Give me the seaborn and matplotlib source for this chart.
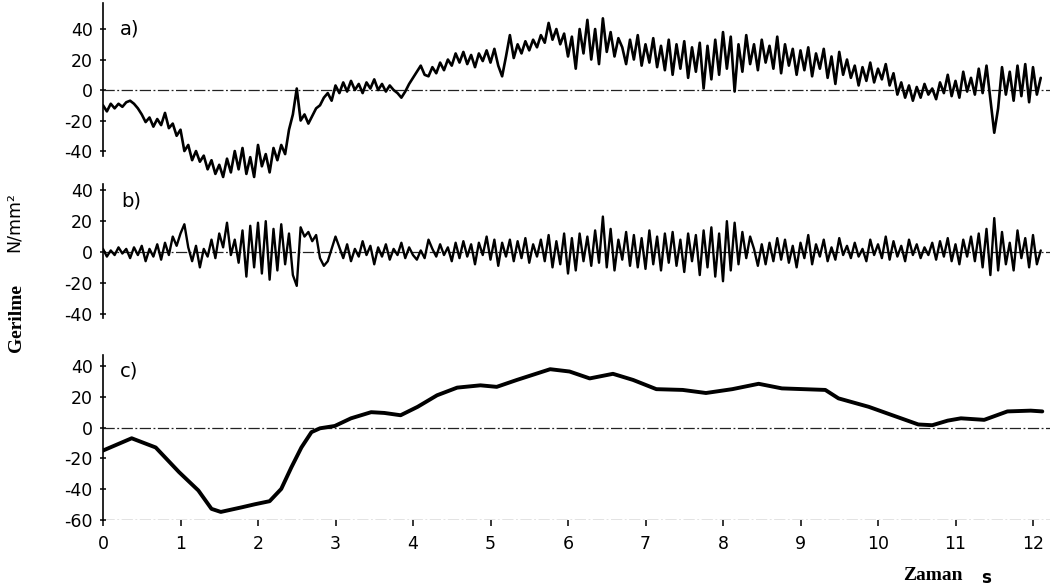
import numpy as np
import pandas as pd
import matplotlib
matplotlib.use("Agg")
import matplotlib.pyplot as plt
import seaborn as sns

# ---------------- data ----------------
dt = 0.05
signal_a = [
    -10, -14, -9, -12, -9, -11, -8, -7, -9, -12, -16, -21, -18, -24, -19, -23, -15, -25, -22, -30,
    -26, -40, -36, -46, -40, -47, -43, -52, -46, -55, -49, -57, -45, -54, -40, -52, -38, -55, -44, -57,
    -36, -50, -42, -54, -38, -46, -36, -42, -26, -16, 1, -20, -16, -22, -17, -12, -10, -5, -2, -7,
    3, -2, 5, -1, 6, 0, 4, -2, 5, 1, 7, 0, 4, -1, 3, 0, -2, -5, -1, 4,
    8, 12, 16, 10, 9, 15, 11, 18, 13, 20, 16, 24, 18, 25, 17, 23, 15, 24, 19, 26,
    18, 27, 16, 9, 22, 36, 21, 30, 24, 32, 26, 33, 28, 36, 31, 44, 33, 40, 30, 37,
    22, 35, 14, 40, 24, 46, 20, 40, 17, 47, 25, 38, 22, 34, 28, 17, 33, 20, 36, 16,
    30, 18, 34, 15, 29, 13, 33, 10, 30, 14, 32, 8, 28, 12, 31, 1, 29, 7, 33, 10,
    38, 14, 35, -1, 30, 12, 36, 17, 30, 13, 33, 18, 29, 14, 35, 11, 30, 16, 27, 10,
    26, 13, 28, 9, 24, 14, 27, 8, 22, 4, 25, 10, 20, 8, 16, 3, 15, 6, 18, 5,
    14, 7, 17, 3, 11, -3, 5, -5, 3, -7, 2, -5, 4, -3, 1, -6, 5, -2, 10, -4,
    6, -5, 12, -1, 8, -3, 14, -2, 16, -6, -28, -12, 15, -3, 12, -7, 16, -4, 17, -8,
    15, -3, 8,
]
signal_b = [
    2, -3, 1, -2, 3, -1, 2, -4, 3, -2, 4, -6, 2, -3, 5, -5, 6, -2, 10, 4,
    12, 18, 3, -6, 4, -10, 2, -3, 8, -4, 12, 3, 19, -2, 8, -7, 14, -16, 17, -10,
    19, -14, 20, -18, 15, -12, 18, -8, 12, -15, -22, 16, 10, 13, 7, 11, -4, -9, -6, 2,
    10, 3, -4, 5, -6, 2, -3, 7, -2, 4, -8, 3, -3, 5, -5, 2, -2, 6, -4, 3,
    -2, -5, 1, -4, 8, 2, -3, 5, -2, 3, -6, 6, -4, 7, -3, 5, -8, 6, -2, 10,
    -5, 8, -9, 6, -3, 8, -6, 7, -4, 9, -7, 5, -3, 8, -6, 11, -10, 7, -8, 12,
    -14, 9, -12, 12, -6, 10, -9, 14, -7, 23, -10, 15, -12, 8, -5, 13, -9, 11, -10, 9,
    -11, 14, -8, 10, -12, 12, -7, 13, -9, 8, -13, 12, -6, 11, -15, 14, -10, 16, -16, 12,
    -19, 20, -12, 19, -8, 13, -4, 10, 2, -9, 5, -8, 6, -6, 9, -5, 8, -7, 4, -10,
    6, -4, 11, -8, 5, -3, 8, -6, 3, -5, 9, -2, 4, -4, 6, -3, 2, -6, 8, -2,
    5, -4, 10, -5, 7, -3, 4, -6, 8, -2, 5, -4, 3, -2, 6, -5, 7, -3, 9, -6,
    5, -8, 8, -3, 10, -6, 12, -10, 15, -15, 22, -12, 13, -8, 6, -12, 14, -4, 9, -10,
    11, -8, 1,
]
time_c = [0.00, 0.37, 0.68, 0.98, 1.23, 1.40, 1.52, 1.79, 1.96, 2.15, 2.30, 2.43,
          2.56, 2.69, 2.80, 2.99, 3.20, 3.46, 3.63, 3.84, 4.06, 4.31, 4.57, 4.87,
          5.08, 5.34, 5.77, 6.02, 6.28, 6.58, 6.84, 7.14, 7.48, 7.78, 8.12, 8.46,
          8.76, 9.32, 9.49, 9.88, 10.13, 10.52, 10.70, 10.90, 11.07, 11.37, 11.67,
          11.97, 12.12]
signal_c = [-15, -7, -13, -29, -41, -53, -55, -52, -50, -48, -40, -26,
            -13, -3, -0.5, 1, 6, 10, 9.5, 8, 13.5, 21, 26, 27.5,
            26.5, 31, 38, 36.5, 32, 35, 31, 25, 24.5, 22.5, 25, 28.5,
            25.5, 24.5, 19, 13.5, 9, 2, 1.5, 4.5, 6, 5, 10.5,
            11, 10.5]
time_ab = [round(i * dt, 2) for i in range(len(signal_a))]

yticks_ab = [40, 20, 0, -20, -40]
yticks_c = [40, 20, 0, -20, -40, -60]
xticks = list(range(0, 13))
panel_labels = ["a)", "b)", "c)"]

df_a = pd.DataFrame({"t": time_ab, "v": signal_a})
df_b = pd.DataFrame({"t": time_ab, "v": signal_b})
df_c = pd.DataFrame({"t": time_c, "v": signal_c})

# ---------------- figure ----------------
sns.set_theme(style="white")
plt.rcParams["font.family"] = ["DejaVu Sans"]

W, H = 1054, 585
fig = plt.figure(figsize=(W / 100, H / 100), dpi=100)
fig.patch.set_facecolor("white")

X0, X1 = 103, 1050
XLIM = (0, (X1 - X0) / 77.5)


def make_axes(top_px, bottom_px):
    return fig.add_axes([X0 / W, 1 - bottom_px / H, (X1 - X0) / W, (bottom_px - top_px) / H])


ax_a = make_axes(3.1, 178.5)
ax_b = make_axes(184.2, 318.2)
ax_c = make_axes(355.4, 519.6)
ylims = [(-58, 57), (-43, 44), (-60, 47)]

zero_style = dict(color="#222222", lw=0.9, ls=(0, (9, 2, 1.5, 2)))
tick_fs = 12.5

for ax, df, yl, lab, lw in zip([ax_a, ax_b, ax_c], [df_a, df_b, df_c], ylims,
                               panel_labels, [1.9, 1.7, 2.8]):
    ax.set_facecolor("none")
    ax.axhline(0, **zero_style, zorder=1)
    sns.lineplot(data=df, x="t", y="v", ax=ax, color="black", lw=lw,
                 estimator=None, sort=False, zorder=3)
    ax.set_xlim(*XLIM)
    ax.set_ylim(*yl)
    ax.set_xlabel("")
    ax.set_ylabel("")
    for s in ["top", "right", "bottom"]:
        ax.spines[s].set_visible(False)
    ax.spines["left"].set_color("black")
    ax.spines["left"].set_linewidth(1.2)
    ax.tick_params(axis="y", which="major", direction="inout", length=5, width=1.1,
                   left=True, pad=5, labelsize=tick_fs, colors="black")
    ax.text(0.22 if lab != "b)" else 0.24, {"a)": 40, "b)": 33, "c)": 37}[lab], lab,
            fontsize=14, va="center", ha="left", color="black")

ax_a.spines["left"].set_bounds(-43, 57)

for ax in (ax_a, ax_b):
    ax.set_yticks(yticks_ab)
    ax.set_yticklabels([("-" + str(-v)) if v < 0 else str(v) for v in yticks_ab])
    ax.set_xticks([])

ax_c.set_yticks(yticks_c)
ax_c.set_yticklabels([("-" + str(-v)) if v < 0 else str(v) for v in yticks_c])
ax_c.axhline(-60, **zero_style, zorder=1)
ax_c.set_xticks(xticks)
ax_c.set_xticklabels([str(v) for v in xticks])
ax_c.tick_params(axis="x", which="major", direction="out", length=4, width=1.1,
                 bottom=True, pad=7, labelsize=tick_fs, colors="black")

# axis titles
fig.text(963 / W, 1 - 576 / H, "Zaman", fontsize=14, family="Liberation Serif",
         fontweight="bold", ha="right", va="center", color="black")
fig.text(986 / W, 1 - 578 / H, "s", fontsize=12, fontweight="bold",
         ha="center", va="center", color="black")
fig.text(16 / W, 1 - 318 / H, "Gerilme", fontsize=14, family="Liberation Serif",
         fontweight="bold", rotation=90, ha="center", va="center", color="black")
fig.text(14 / W, 1 - 222 / H, "N/mm²", fontsize=12.5, rotation=90,
         ha="center", va="center", color="black")

fig.savefig("out.png", dpi=100, facecolor="white")
